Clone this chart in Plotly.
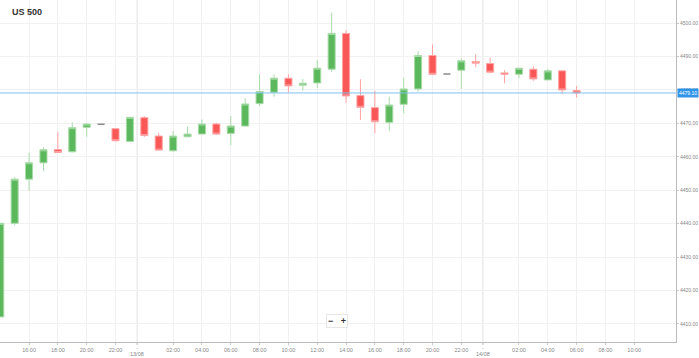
import pandas as pd
import plotly.graph_objects as go

# ---- data ----
times = pd.date_range("2021-08-12 14:00", periods=41, freq="h")
opens = [4412.1, 4440.1, 4453.3, 4458.2, 4462.2, 4461.5, 4468.8, 4469.7, 4468.4, 4464.6,
         4471.7, 4466.2, 4461.8, 4466.0, 4466.8, 4469.8, 4467.0, 4469.2, 4475.9, 4479.3,
         4483.5, 4481.4, 4482.1, 4486.2, 4496.9, 4478.3, 4474.7, 4470.3, 4475.7, 4480.3,
         4490.3, 4484.8, 4485.9, 4488.5, 4487.9, 4485.1, 4484.7, 4486.2, 4483.0, 4485.7,
         4479.8]
highs = [4440.1, 4453.9, 4461.2, 4462.8, 4467.5, 4470.3, 4470.0, 4469.7, 4468.6, 4471.9,
         4472.2, 4467.2, 4467.7, 4469.0, 4471.2, 4470.2, 4472.2, 4477.5, 4484.7, 4484.7,
         4484.7, 4483.3, 4488.9, 4503.1, 4497.9, 4483.2, 4479.8, 4478.0, 4483.5, 4491.6,
         4493.6, 4484.8, 4489.4, 4490.7, 4489.7, 4485.9, 4486.5, 4487.1, 4486.2, 4485.7,
         4481.2]
lows = [4412.1, 4439.6, 4449.9, 4455.7, 4461.3, 4461.3, 4466.0, 4469.7, 4464.6, 4464.4,
        4465.9, 4462.0, 4461.5, 4465.8, 4466.8, 4466.6, 4463.5, 4469.0, 4475.2, 4478.0,
        4479.2, 4479.8, 4480.5, 4485.4, 4476.2, 4471.0, 4467.0, 4467.8, 4473.0, 4479.5,
        4484.4, 4484.8, 4480.3, 4486.8, 4485.0, 4482.0, 4483.6, 4482.7, 4483.0, 4478.7,
        4477.7]
closes = [4440.1, 4453.3, 4458.2, 4462.1, 4461.3, 4468.7, 4469.8, 4469.7, 4464.8, 4471.8,
          4466.4, 4462.0, 4466.2, 4466.8, 4469.8, 4466.8, 4469.2, 4475.8, 4479.5, 4483.5,
          4481.2, 4482.0, 4486.5, 4496.9, 4478.2, 4474.8, 4470.5, 4475.5, 4480.3, 4490.3,
          4484.7, 4484.8, 4488.7, 4488.0, 4485.3, 4484.7, 4486.5, 4483.3, 4485.7, 4480.0,
          4479.1]

tick_times = ["2021-08-12 16:00", "2021-08-12 18:00", "2021-08-12 20:00", "2021-08-12 22:00",
              "2021-08-13 02:00", "2021-08-13 04:00", "2021-08-13 06:00", "2021-08-13 08:00",
              "2021-08-13 10:00", "2021-08-13 12:00", "2021-08-13 14:00", "2021-08-13 16:00",
              "2021-08-13 18:00", "2021-08-13 20:00", "2021-08-13 22:00",
              "2021-08-14 02:00", "2021-08-14 04:00", "2021-08-14 06:00", "2021-08-14 08:00",
              "2021-08-14 10:00"]
tick_labels = ["16:00", "18:00", "20:00", "22:00", "02:00", "04:00", "06:00", "08:00",
               "10:00", "12:00", "14:00", "16:00", "18:00", "20:00", "22:00",
               "02:00", "04:00", "06:00", "08:00", "10:00"]
date_marks = ["2021-08-12 23:30", "2021-08-13 23:30"]
date_labels = ["13/08", "14/08"]
y_ticks = [4410, 4420, 4430, 4440, 4450, 4460, 4470, 4480, 4490, 4500]
current_price = closes[-1]
title = "US 500"

# ---- split regular candles and doji ----
reg = [i for i in range(len(times)) if opens[i] != closes[i]]
doj = [i for i in range(len(times)) if opens[i] == closes[i]]

def sel(arr, idx):
    return [arr[i] for i in idx]

GREEN = "#5cb85c"
RED = "#fa5757"

fig = go.Figure()
fig.add_trace(go.Candlestick(
    x=sel(times, reg), open=sel(opens, reg), high=sel(highs, reg),
    low=sel(lows, reg), close=sel(closes, reg),
    increasing=dict(fillcolor=GREEN, line=dict(color="#a8dba8", width=1)),
    decreasing=dict(fillcolor=RED, line=dict(color="#ffa3a3", width=1)),
    hoverinfo="skip", showlegend=False,
))
fig.add_trace(go.Candlestick(
    x=sel(times, doj), open=sel(opens, doj), high=sel(highs, doj),
    low=sel(lows, doj), close=sel(closes, doj),
    increasing=dict(fillcolor="#8a8a8a", line=dict(color="#8a8a8a", width=1.5)),
    decreasing=dict(fillcolor="#8a8a8a", line=dict(color="#8a8a8a", width=1.5)),
    hoverinfo="skip", showlegend=False,
))

shapes = []
for d in date_marks:
    shapes.append(dict(type="line", xref="x", yref="paper", x0=d, x1=d, y0=0, y1=1,
                       line=dict(color="#e2e2e2", width=1), layer="below"))
    shapes.append(dict(type="line", xref="x", yref="paper", x0=d, x1=d, y0=0, y1=-0.02,
                       line=dict(color="#bbbbbb", width=1, dash="dot")))
shapes.append(dict(type="line", xref="paper", yref="y", x0=0, x1=1,
                   y0=current_price, y1=current_price,
                   line=dict(color="#7fc0ee", width=1)))

annotations = []
for d, lab in zip(date_marks, date_labels):
    annotations.append(dict(x=d, xref="x", y=-0.035, yref="paper", text=lab,
                            showarrow=False, font=dict(size=5.5, color="#888888"),
                            xanchor="center", yanchor="middle"))
annotations.append(dict(x=1.002, xref="paper", y=current_price, yref="y",
                        text=f"{current_price:.2f}", showarrow=False,
                        xanchor="left", yanchor="middle",
                        font=dict(size=5, color="white"),
                        bgcolor="#2f95e8", borderpad=1))
annotations.append(dict(x=0.015, xref="paper", y=0.965, yref="paper",
                        text=f"<b>{title}</b>", showarrow=False,
                        xanchor="left", yanchor="middle",
                        font=dict(size=9, color="#333333", family="Arial")))
annotations.append(dict(x=0.4985, xref="paper", y=0.062, yref="paper",
                        text="<b>−</b>   <b>+</b>", showarrow=False,
                        xanchor="center", yanchor="middle",
                        font=dict(size=9, color="#333333", family="Arial"),
                        bgcolor="white", bordercolor="#e6e6e6", borderwidth=1,
                        borderpad=1))

fig.update_layout(
    width=699, height=358,
    margin=dict(l=0, r=23, t=0, b=16, autoexpand=False),
    paper_bgcolor="white", plot_bgcolor="white",
    boxgap=0.3,
    shapes=shapes, annotations=annotations,
    font=dict(family="Arial"),
    xaxis=dict(
        type="date",
        range=["2021-08-12 13:59", "2021-08-14 12:54"],
        rangeslider=dict(visible=False),
        tickvals=tick_times, ticktext=tick_labels,
        tickfont=dict(size=5.5, color="#888888"),
        showgrid=True, gridcolor="#f1f1f1", gridwidth=1,
        showline=True, linecolor="#bbbbbb", linewidth=1,
        ticks="outside", ticklen=2, tickcolor="#cccccc",
        zeroline=False, fixedrange=True,
    ),
    yaxis=dict(
        side="right",
        range=[4404.6, 4506.9],
        tickvals=y_ticks, tickformat=".2f",
        tickfont=dict(size=5, color="#888888"),
        showgrid=True, gridcolor="#f1f1f1", gridwidth=1,
        showline=True, linecolor="#bbbbbb", linewidth=1,
        ticks="outside", ticklen=2, tickcolor="#cccccc",
        zeroline=False, fixedrange=True,
    ),
)

fig.write_html(
    "out.html",
    config={"displayModeBar": False},
    post_script="document.body.style.margin='0';document.body.style.overflow='hidden';",
)
